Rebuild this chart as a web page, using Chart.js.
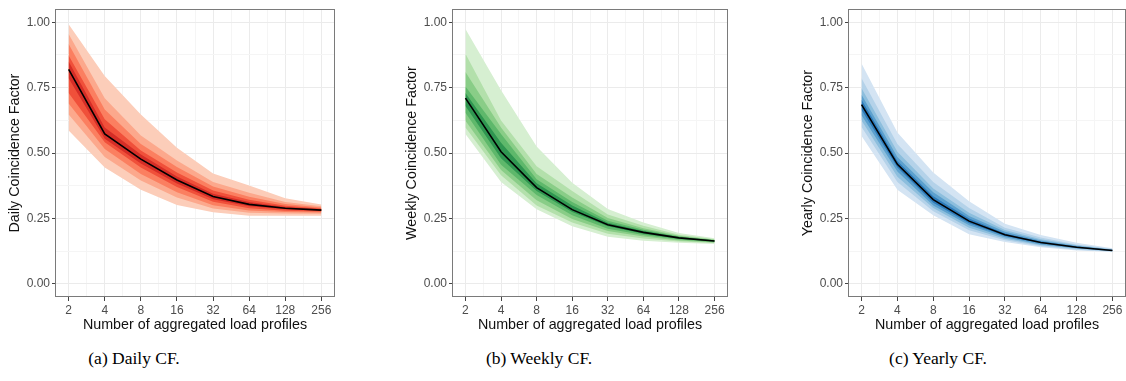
<!DOCTYPE html>
<html>
<head>
<meta charset="utf-8">
<script src="https://cdn.jsdelivr.net/npm/chart.js@4.4.1/dist/chart.umd.min.js"></script>
<style>
  html, body { margin: 0; padding: 0; background: #fff; }
  body { width: 1126px; height: 381px; position: relative; overflow: hidden; }
  .panel { position: absolute; top: 0; }
  .caption {
    position: absolute; top: 347px; width: 300px; text-align: center;
    font-family: 'Liberation Serif', 'DejaVu Serif', serif; font-size: 17.5px;
    line-height: 22px; color: #000;
  }
</style>
</head>
<body>
<div class="panel" style="left:0px"><canvas id="daily" width="345" height="335"></canvas></div>
<div class="panel" style="left:397px"><canvas id="weekly" width="344" height="335"></canvas></div>
<div class="panel" style="left:793px"><canvas id="yearly" width="333" height="335"></canvas></div>
<div class="caption" style="left:-16px">(a) Daily CF.</div>
<div class="caption" style="left:389px">(b) Weekly CF.</div>
<div class="caption" style="left:788px">(c) Yearly CF.</div>

<script>
// number of aggregated load profiles (x categories, log2 axis)
const N_PROFILES = [2, 4, 8, 16, 32, 64, 128, 256];
const Y_TICKS = [0, 0.25, 0.5, 0.75, 1.0];

// Daily CF -- median and quantile bands, outermost band first
const DAILY_MEDIAN = [0.82, 0.573, 0.477, 0.397, 0.334, 0.304, 0.289, 0.282];
const DAILY_HI = [
  [0.992, 0.795, 0.648, 0.52, 0.422, 0.376, 0.327, 0.304],
  [0.955, 0.71, 0.567, 0.472, 0.39, 0.348, 0.313, 0.297],
  [0.917, 0.667, 0.535, 0.447, 0.372, 0.333, 0.305, 0.292],
  [0.873, 0.629, 0.51, 0.426, 0.357, 0.322, 0.299, 0.288],
  [0.85, 0.598, 0.495, 0.411, 0.345, 0.313, 0.294, 0.285]
];
const DAILY_LO = [
  [0.586, 0.445, 0.36, 0.302, 0.274, 0.261, 0.261, 0.261],
  [0.648, 0.485, 0.395, 0.33, 0.288, 0.272, 0.269, 0.268],
  [0.69, 0.516, 0.42, 0.35, 0.301, 0.281, 0.275, 0.273],
  [0.73, 0.541, 0.445, 0.37, 0.314, 0.289, 0.28, 0.277],
  [0.786, 0.555, 0.46, 0.384, 0.324, 0.297, 0.285, 0.28]
];

// Weekly CF
const WEEKLY_MEDIAN = [0.71, 0.505, 0.368, 0.284, 0.226, 0.197, 0.176, 0.164];
const WEEKLY_HI = [
  [0.974, 0.74, 0.525, 0.387, 0.286, 0.235, 0.195, 0.175],
  [0.88, 0.625, 0.45, 0.355, 0.265, 0.222, 0.188, 0.171],
  [0.81, 0.598, 0.42, 0.33, 0.252, 0.213, 0.184, 0.169],
  [0.755, 0.573, 0.4, 0.313, 0.241, 0.207, 0.181, 0.167],
  [0.73, 0.54, 0.385, 0.3, 0.234, 0.202, 0.179, 0.166]
];
const WEEKLY_LO = [
  [0.573, 0.39, 0.285, 0.22, 0.18, 0.165, 0.157, 0.153],
  [0.598, 0.415, 0.3, 0.235, 0.192, 0.174, 0.162, 0.156],
  [0.624, 0.435, 0.32, 0.248, 0.202, 0.181, 0.166, 0.158],
  [0.654, 0.455, 0.34, 0.262, 0.211, 0.187, 0.17, 0.16],
  [0.68, 0.48, 0.355, 0.275, 0.22, 0.192, 0.173, 0.162]
];

// Yearly CF
const YEARLY_MEDIAN = [0.685, 0.457, 0.322, 0.24, 0.188, 0.158, 0.14, 0.128];
const YEARLY_HI = [
  [0.842, 0.579, 0.426, 0.316, 0.23, 0.187, 0.157, 0.136],
  [0.786, 0.535, 0.39, 0.29, 0.215, 0.177, 0.151, 0.133],
  [0.748, 0.505, 0.365, 0.272, 0.206, 0.171, 0.148, 0.132],
  [0.723, 0.485, 0.35, 0.26, 0.199, 0.166, 0.145, 0.131],
  [0.704, 0.47, 0.335, 0.25, 0.193, 0.162, 0.143, 0.13]
];
const YEARLY_LO = [
  [0.565, 0.36, 0.262, 0.19, 0.16, 0.14, 0.128, 0.122],
  [0.6, 0.39, 0.278, 0.205, 0.167, 0.144, 0.131, 0.124],
  [0.625, 0.41, 0.29, 0.215, 0.173, 0.148, 0.134, 0.125],
  [0.645, 0.43, 0.3, 0.224, 0.178, 0.151, 0.136, 0.126],
  [0.665, 0.445, 0.31, 0.232, 0.183, 0.155, 0.138, 0.127]
];

const REDS = ['#FCCDB9', '#FCA88C', '#FB7F60', '#F0503A', '#D52E27'];
const GREENS = ['#D6EFD1', '#B3E0AB', '#89CD87', '#5EB86B', '#2F9651'];
const BLUES = ['#D4E4F3', '#B4D2E9', '#8CBEDD', '#5CA0CE', '#2D7BBA'];

Chart.defaults.font.family = "'Liberation Sans', Arial, sans-serif";
Chart.defaults.animation = false;

const GRID_MAJOR = '#EBEBEB';
const GRID_MINOR = '#F5F5F5';

function isPow2(v) {
  const l = Math.log2(v);
  return Math.abs(l - Math.round(l)) < 1e-6;
}
function isQuarter(v) {
  return Math.abs(v * 4 - Math.round(v * 4)) < 1e-6;
}

// gridline positions: majors plus ggplot-style minor lines half way between
const X_GRID = [];
N_PROFILES.forEach((n, i) => {
  if (i > 0) X_GRID.push(n / Math.SQRT2);
  X_GRID.push(n);
});
const Y_GRID = [];
Y_TICKS.forEach((v, i) => {
  if (i > 0) Y_GRID.push(v - 0.125);
  Y_GRID.push(v);
});

const panelBorder = {
  id: 'panelBorder',
  afterDatasetsDraw(chart) {
    const { ctx, chartArea: a } = chart;
    ctx.save();
    ctx.strokeStyle = '#7a7a7a';
    ctx.lineWidth = 1;
    ctx.strokeRect(Math.round(a.left) - 0.5, Math.round(a.top) + 0.5,
      Math.round(a.right - a.left) + 1, Math.round(a.bottom - a.top) - 1);
    ctx.restore();
  }
};

function pts(arr) {
  return N_PROFILES.map((n, i) => ({ x: n, y: arr[i] }));
}

function buildPanel(id, yTitle, median, hi, lo, colors, padRight) {
  const datasets = [];
  hi.forEach((h, k) => {
    const loIndex = datasets.length + 1;
    datasets.push({
      data: pts(h), fill: loIndex, backgroundColor: colors[k],
      borderWidth: 0, pointRadius: 0, order: 20 - k
    });
    datasets.push({
      data: pts(lo[k]), fill: false, borderWidth: 0, pointRadius: 0, order: 20 - k
    });
  });
  datasets.push({
    data: pts(median), fill: false, borderColor: '#000', borderWidth: 1.6,
    pointRadius: 0, tension: 0, order: 0
  });

  new Chart(document.getElementById(id), {
    type: 'line',
    data: { datasets },
    plugins: [panelBorder],
    options: {
      responsive: false,
      layout: { padding: { top: 5, right: padRight, left: 0, bottom: 0 } },
      plugins: { legend: { display: false }, tooltip: { enabled: false } },
      scales: {
        x: {
          type: 'logarithmic',
          min: N_PROFILES[0] * Math.pow(2, -0.35),
          max: N_PROFILES[N_PROFILES.length - 1] * Math.pow(2, 0.35),
          afterBuildTicks: (s) => { s.ticks = X_GRID.map((v) => ({ value: v })); },
          afterFit: (s) => { s.height = 38; },
          ticks: {
            autoSkip: false, maxRotation: 0, padding: 2, color: '#4D4D4D',
            font: { size: 12 },
            callback: (v) => (isPow2(v) ? String(Math.round(v)) : '')
          },
          grid: {
            color: (c) => (c.tick && isPow2(c.tick.value) ? GRID_MAJOR : GRID_MINOR),
            tickColor: (c) => (c.tick && isPow2(c.tick.value) ? '#444' : 'rgba(0,0,0,0)'),
            tickLength: 4, lineWidth: 1
          },
          border: { display: false },
          title: {
            display: true, text: 'Number of aggregated load profiles', color: '#111',
            font: { size: 14.3 }, padding: { top: 0, bottom: 1.4 }
          }
        },
        y: {
          type: 'linear', min: -0.05, max: 1.05,
          afterBuildTicks: (s) => { s.ticks = Y_GRID.map((v) => ({ value: v })); },
          afterFit: (s) => { s.width = 56; },
          ticks: {
            autoSkip: false, padding: 2, color: '#4D4D4D', font: { size: 12 },
            callback: (v) => (isQuarter(v) ? v.toFixed(2) : '')
          },
          grid: {
            color: (c) => (c.tick && isQuarter(c.tick.value) ? GRID_MAJOR : GRID_MINOR),
            tickColor: (c) => (c.tick && isQuarter(c.tick.value) ? '#444' : 'rgba(0,0,0,0)'),
            tickLength: 4, lineWidth: 1
          },
          border: { display: false },
          title: {
            display: true, text: yTitle, color: '#111',
            font: { size: 14.3 }, padding: { top: 6.4, bottom: 0 }
          }
        }
      }
    }
  });
}

buildPanel('daily', 'Daily Coincidence Factor', DAILY_MEDIAN, DAILY_HI, DAILY_LO, REDS, 11);
buildPanel('weekly', 'Weekly Coincidence Factor', WEEKLY_MEDIAN, WEEKLY_HI, WEEKLY_LO, GREENS, 14);
buildPanel('yearly', 'Yearly Coincidence Factor', YEARLY_MEDIAN, YEARLY_HI, YEARLY_LO, BLUES, 1);
</script>
</body>
</html>
